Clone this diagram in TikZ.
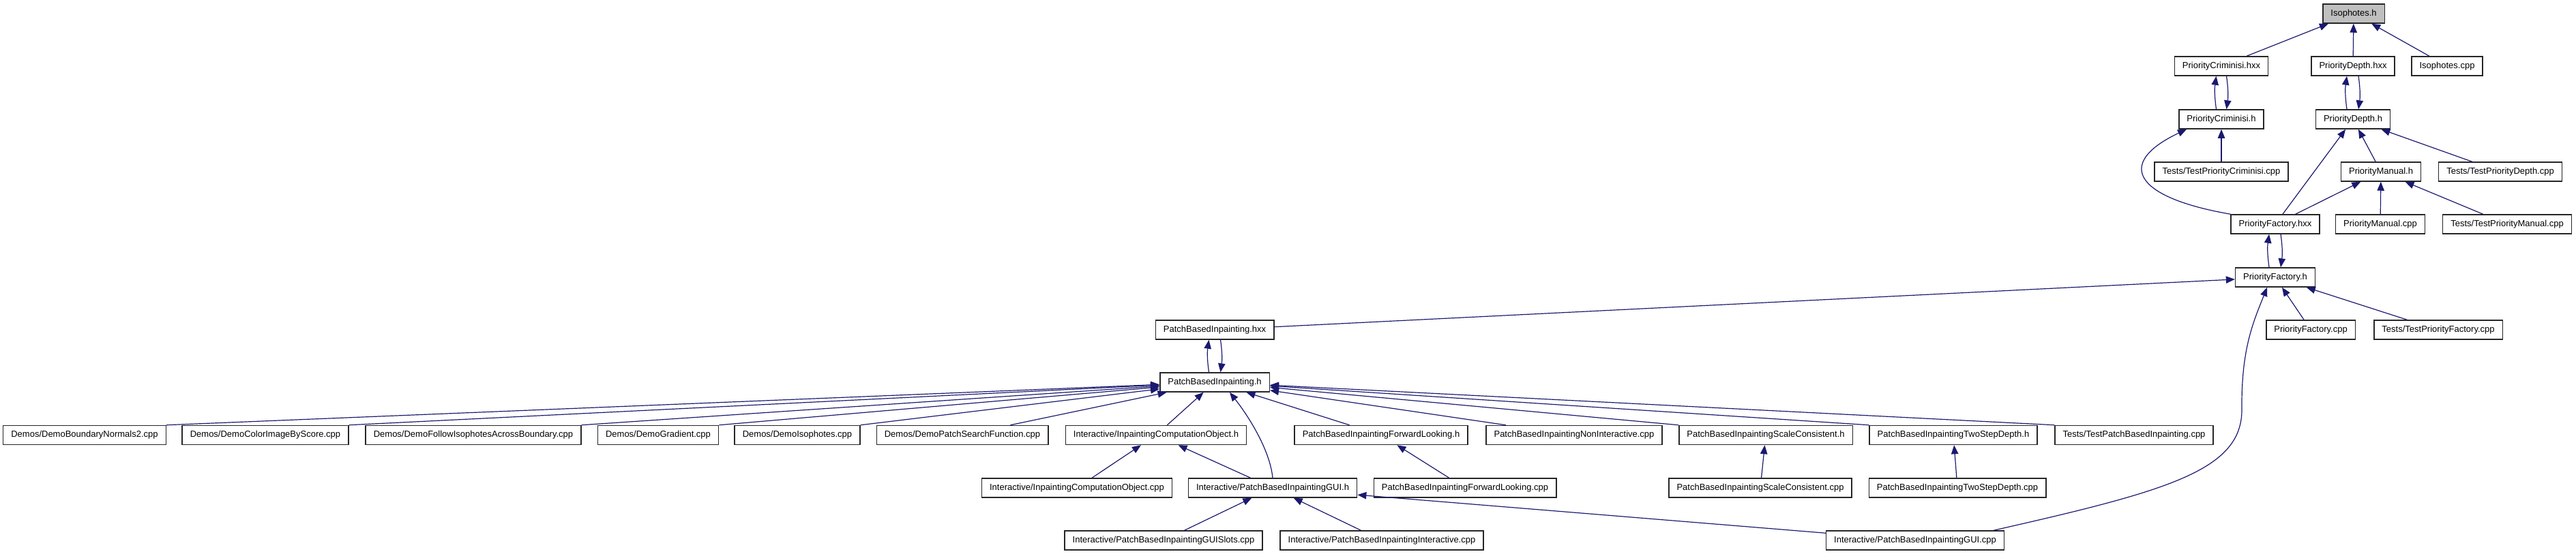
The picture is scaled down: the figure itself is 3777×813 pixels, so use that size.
\documentclass[tikz,border=0pt]{standalone}
\usepackage{fontspec}
\setmainfont{Liberation Sans}
\usepackage{tikz}
\usetikzlibrary{arrows.meta}
\definecolor{DoxEdge}{RGB}{25,25,112}
\definecolor{DoxRoot}{RGB}{191,191,191}

\begin{document}
\begin{tikzpicture}[
  x=0.5pt, y=-0.5pt,
  box/.style={draw=black!85, line width=0.75pt, fill=white, inner xsep=5.8pt, inner ysep=0pt, minimum height=14pt, font=\fontsize{6.5}{7.8}\selectfont},
  root/.style={box, fill=DoxRoot},
  line/.style={-{Triangle[length=6.5pt,width=5.2pt]}, line width=0.6pt, draw=DoxEdge}
]
\useasboundingbox (0,0) rectangle (3777,813);

\node[root] (iso) at (3451,20) {Isophotes.h};
\node[box] (pchxx) at (3257,97) {PriorityCriminisi.hxx};
\node[box] (pdhxx) at (3450,97) {PriorityDepth.hxx};
\node[box] (isocpp) at (3588,97) {Isophotes.cpp};
\node[box] (pch) at (3257,175) {PriorityCriminisi.h};
\node[box] (pdh) at (3450,175) {PriorityDepth.h};
\node[box] (tpc) at (3257,252) {Tests/TestPriorityCriminisi.cpp};
\node[box] (pmh) at (3491,252) {PriorityManual.h};
\node[box] (tpd) at (3666,252) {Tests/TestPriorityDepth.cpp};
\node[box] (pfhxx) at (3336,329) {PriorityFactory.hxx};
\node[box] (pmcpp) at (3490,329) {PriorityManual.cpp};
\node[box] (tpm) at (3676,329) {Tests/TestPriorityManual.cpp};
\node[box] (pfh) at (3336,407) {PriorityFactory.h};
\node[box] (pfcpp) at (3388,484) {PriorityFactory.cpp};
\node[box] (tpf) at (3575,484) {Tests/TestPriorityFactory.cpp};
\node[box] (pbihxx) at (1781,484) {PatchBasedInpainting.hxx};
\node[box] (pbih) at (1781,561) {PatchBasedInpainting.h};

\node[box] (demobn) at (124,638.5) {Demos/DemoBoundaryNormals2.cpp};
\node[box] (democi) at (389,638.5) {Demos/DemoColorImageByScore.cpp};
\node[box] (demofi) at (694,638.5) {Demos/DemoFollowIsophotesAcrossBoundary.cpp};
\node[box] (demogr) at (965,638.5) {Demos/DemoGradient.cpp};
\node[box] (demois) at (1169,638.5) {Demos/DemoIsophotes.cpp};
\node[box] (demops) at (1411,638.5) {Demos/DemoPatchSearchFunction.cpp};
\node[box] (icoh) at (1695,638.5) {Interactive/InpaintingComputationObject.h};
\node[box] (pflh) at (2025,638.5) {PatchBasedInpaintingForwardLooking.h};
\node[box] (pnicpp) at (2308,638.5) {PatchBasedInpaintingNonInteractive.cpp};
\node[box] (psch) at (2589,638.5) {PatchBasedInpaintingScaleConsistent.h};
\node[box] (ptsdh) at (2864,638.5) {PatchBasedInpaintingTwoStepDepth.h};
\node[box] (tpbi) at (3129,638.5) {Tests/TestPatchBasedInpainting.cpp};

\node[box] (icocpp) at (1579,716) {Interactive/InpaintingComputationObject.cpp};
\node[box] (guih) at (1866,716) {Interactive/PatchBasedInpaintingGUI.h};
\node[box] (pflcpp) at (2148,716) {PatchBasedInpaintingForwardLooking.cpp};
\node[box] (psccpp) at (2581,716) {PatchBasedInpaintingScaleConsistent.cpp};
\node[box] (ptsdcpp) at (2870,716) {PatchBasedInpaintingTwoStepDepth.cpp};

\node[box] (guislots) at (1706,793) {Interactive/PatchBasedInpaintingGUISlots.cpp};
\node[box] (guiinter) at (2026,793) {Interactive/PatchBasedInpaintingInteractive.cpp};
\node[box] (guicpp) at (2808,793) {Interactive/PatchBasedInpaintingGUI.cpp};

\draw[line] (pchxx) -- (iso);
\draw[line] (pdhxx) -- (iso);
\draw[line] (isocpp) -- (iso);
\draw[line] ([xshift=-3.75pt]pch.north) to[bend left=8] ([xshift=-3.75pt]pchxx.south);
\draw[line] ([xshift=3.75pt]pchxx.south) to[bend left=8] ([xshift=3.75pt]pch.north);
\draw[line] ([xshift=-4.5pt]pdh.north) to[bend left=8] ([xshift=-4.5pt]pdhxx.south);
\draw[line] ([xshift=4pt]pdhxx.south) to[bend left=8] ([xshift=4pt]pdh.north);
\draw[line] (tpc) -- (pch);
\draw[line] (pfhxx.north west) .. controls (3130,290) and (3100,240) .. ([xshift=-25.5pt]pch.south);
\draw[line] (pfhxx) -- (pdh);
\draw[line] (pmh) -- (pdh);
\draw[line] (tpd) -- (pdh);
\draw[line] (pfhxx) -- (pmh);
\draw[line] (pmcpp) -- (pmh);
\draw[line] (tpm) -- (pmh);
\draw[line] ([xshift=-4.5pt]pfh.north) to[bend left=8] ([xshift=-4.5pt]pfhxx.south);
\draw[line] ([xshift=4pt]pfhxx.south) to[bend left=8] ([xshift=4pt]pfh.north);
\draw[line] (pbihxx) -- (pfh);
\draw[line] (pfcpp) -- (pfh);
\draw[line] (tpf) -- (pfh);
\draw[line] ([xshift=-8pt]guicpp.north east) .. controls (3180,720) and (3288,690) .. (3287,600)
  .. controls (3286,510) and (3305,470) .. ([xshift=-6pt]pfh.south);
\draw[line] ([xshift=-4.25pt]pbih.north) to[bend left=8] ([xshift=-4.25pt]pbihxx.south);
\draw[line] ([xshift=4.25pt]pbihxx.south) to[bend left=8] ([xshift=4.25pt]pbih.north);

\draw[line] (demobn.north east) -- (pbih);
\draw[line] (democi.north east) -- (pbih);
\draw[line] (demofi.north east) -- (pbih);
\draw[line] (demogr.north east) -- (pbih);
\draw[line] (demois.north east) -- (pbih);
\draw[line] (demops) -- (pbih);
\draw[line] (icoh) -- (pbih);
\draw[line] (pflh) -- (pbih);
\draw[line] (pnicpp) -- (pbih);
\draw[line] (psch.north west) -- (pbih);
\draw[line] (ptsdh.north west) -- (pbih);
\draw[line] (tpbi.north west) -- (pbih);
\draw[line] (guih.north) .. controls (1862,660) and (1830,610) .. ([xshift=11pt]pbih.south);

\draw[line] (icocpp) -- (icoh);
\draw[line] (guih) -- (icoh);
\draw[line] (pflcpp) -- (pflh);
\draw[line] (psccpp) -- (psch);
\draw[line] (ptsdcpp) -- (ptsdh);
\draw[line] (guislots) -- (guih);
\draw[line] (guiinter) -- (guih);
\draw[line] (guicpp) -- (guih);
\end{tikzpicture}
\end{document}
